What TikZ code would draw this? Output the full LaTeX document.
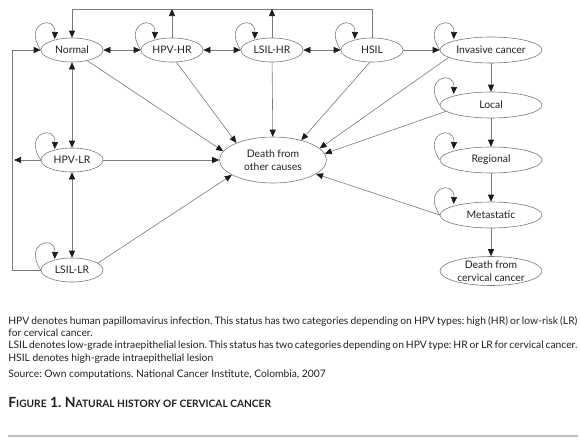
\documentclass[tikz,border=0pt]{standalone}
\usepackage{fontspec}
\setmainfont{Lato}
\usetikzlibrary{arrows.meta,calc,shapes.geometric}
\definecolor{ink}{HTML}{231F20}
\definecolor{edge}{HTML}{7A7A7A}
\definecolor{tipc}{HTML}{1A1A1A}
\definecolor{rulec}{HTML}{BDBDBD}
\frenchspacing
\newcommand{\selfloop}[1]{\draw[->] (#1.west) .. controls +(-18,-27) and +(1,-25) .. ($(#1.west)+(14,-11)$);}
\newcommand{\smallpart}[1]{{\fontsize{10.2}{12}\selectfont #1}}
\newcommand{\noteline}[1]{\makebox[569pt][s]{#1}}

\begin{document}
\begin{tikzpicture}[x=1pt,y=-1pt,text=ink,
  >={Triangle[length=7pt,width=6pt,color=tipc]},
  every path/.style={draw=edge,line width=0.6pt},
  state/.style={ellipse,draw=edge,line width=0.6pt,inner sep=0pt,
    minimum width=62pt,minimum height=24pt,align=center,
    font=\fontsize{10.4}{12.5}\selectfont},
  wide/.style={state,minimum width=102pt,minimum height=26pt},
  note/.style={anchor=north west,align=left,inner sep=0pt,
    font=\fontsize{10.3}{12.3}\selectfont}]
  \useasboundingbox[draw=none] (0,0) rectangle (580,447);

  % states
  \node[state] (normal) at (72,50) {Normal};
  \node[state] (hpvhr) at (172,50) {HPV-HR};
  \node[state] (lsilhr) at (272,50) {LSIL-HR};
  \node[state] (hsil) at (372,50) {HSIL};
  \node[wide] (invasive) at (491,50) {Invasive cancer};
  \node[wide] (local) at (491,105) {Local};
  \node[wide] (regional) at (491,160) {Regional};
  \node[wide] (metastatic) at (491,215) {Metastatic};
  \node[wide,minimum height=29pt] (dcervical) at (491,271) {Death from\\cervical cancer};
  \node[state,minimum width=107pt,minimum height=46pt] (dother) at (273,160) {Death from\\other causes};
  \node[state] (hpvlr) at (72,160) {HPV-LR};
  \node[state] (lsillr) at (72,270) {LSIL-LR};
  \coordinate (top) at (0,9);
  \coordinate (left) at (12,0);

  % staying in the same state
  \selfloop{normal}
  \selfloop{hpvhr}
  \selfloop{lsilhr}
  \selfloop{hsil}
  \selfloop{invasive}
  \selfloop{local}
  \selfloop{regional}
  \selfloop{metastatic}
  \selfloop{hpvlr}
  \selfloop{lsillr}

  % regression to normal
  \draw[->] (hsil.north) -- (hsil.north |- top) -| (normal.north);
  \draw[->] (hpvhr.north) -- (hpvhr.north |- top);
  \draw[->] (lsilhr.north) -- (lsilhr.north |- top);
  \draw[->] (lsillr.west) -- (lsillr.west -| left) |- (normal.west);
  \draw[->,shorten >=2pt] (hpvlr.west) -- (hpvlr.west -| left);

  % progression
  \draw[<->] (normal) -- (hpvhr);
  \draw[<->] (hpvhr) -- (lsilhr);
  \draw[<->] (lsilhr) -- (hsil);
  \draw[<->] (normal) -- (hpvlr);
  \draw[<->] (hpvlr) -- (lsillr);
  \draw[->] (hsil) -- (invasive);
  \draw[->] (invasive) -- (local);
  \draw[->] (local) -- (regional);
  \draw[->] (regional) -- (metastatic);
  \draw[->] (metastatic) -- (dcervical);

  % death from other causes
  \draw[->] (normal.-35) -- (dother.170);
  \draw[->] (hpvhr.-70) -- (dother.155);
  \draw[->] (lsilhr) -- (dother);
  \draw[->] (hsil.-100) -- (dother.35);
  \draw[->] (invasive.190) -- (dother.14);
  \draw[->] (local.188) -- (dother.7);
  \draw[->] (metastatic.west) -- (dother.-18);
  \draw[->] (hpvlr) -- (dother);
  \draw[->] (lsillr.15) -- (dother.-160);

  % notes
  \node[note] (notes) at (8,316)
    {\noteline{HPV denotes human papillomavirus infection. This status has two categories depending on HPV types: high (HR) or low-risk (LR)}\\
     for cervical cancer.\\
     \noteline{LSIL denotes low-grade intraepithelial lesion. This status has two categories depending on HPV type: HR or LR for cervical cancer.}\\
     HSIL denotes high-grade intraepithelial lesion};
  \node[note] (source) at (8,370) {Source: Own computations. National Cancer Institute, Colombia, 2007};
  \node[note,font=\fontsize{14}{16}\selectfont\bfseries] (title) at (8,397)
    {F\smallpart{IGURE} 1. N\smallpart{ATURAL HISTORY OF CERVICAL CANCER}};
  \draw[rulec,line width=2pt] (8,436) -- (578,436);
\end{tikzpicture}
\end{document}
